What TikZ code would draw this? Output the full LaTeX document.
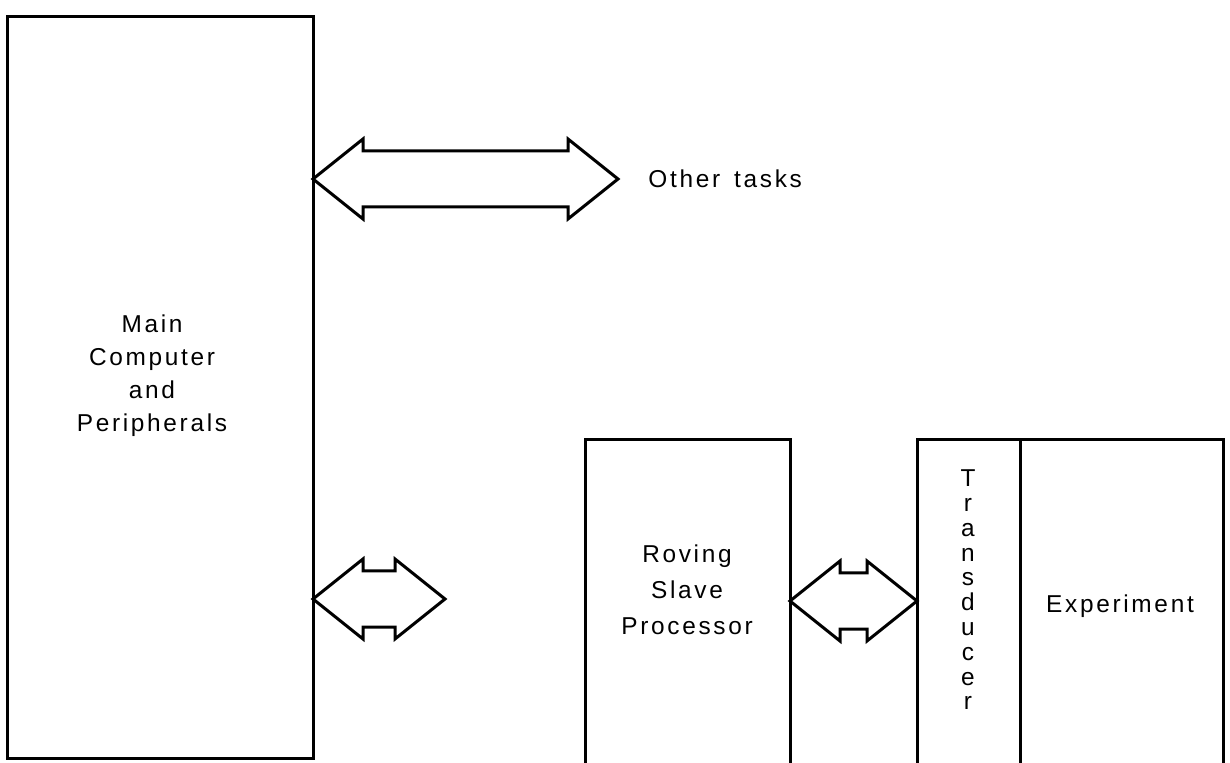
\documentclass[tikz,border=0pt]{standalone}
\usepackage{fontspec}
\setmainfont{Liberation Sans}[LetterSpace=11]
\usetikzlibrary{calc,positioning}
\newcommand{\busarrow}[2]{%
  \draw[bus] (#1) -- ++(50,-40) -- ++(0,12) -- ($(#2)+(-50,-28)$)
    -- ++(0,-12) -- (#2) -- ++(-50,40) -- ++(0,-12)
    -- ($(#1)+(50,28)$) -- ++(0,12) -- cycle;}

\begin{document}
\begin{tikzpicture}
[x=0.5pt,y=-0.5pt,%
  unit/.style={rectangle,draw,line width=1.5pt,inner sep=0pt,outer sep=0pt},%
  bus/.style={line width=1.5pt,line join=miter},%
  txt/.style={font=\fontsize{12.2}{16.5}\selectfont,align=center,inner sep=0pt}]
\useasboundingbox (0,0) rectangle (1230,763);
\clip (0,0) rectangle (1230,763);
% boxes
\node[unit,anchor=north west,minimum width=153pt,minimum height=370.5pt] (main) at (7,17) {};
\node[unit,anchor=north west,minimum width=102.5pt,minimum height=200pt] (rov) at (585,440) {};
\node[unit,anchor=north west,minimum width=51.5pt,minimum height=200pt] (trans) at (917,440) {};
\node[unit,minimum width=101.5pt,minimum height=200pt,right=0pt of trans] (expt) {};
% labels
\node[txt] (maintxt) at (152,376) {Main\\Computer\\and\\Peripherals};
\node[txt,font=\fontsize{12.2}{18}\selectfont] (rovtxt) at (687,590) {Roving\\Slave\\Processor};
\node[txt,anchor=base west] (othtxt) at (648,188) {Other\hspace{7pt}tasks};
\node[txt,anchor=base] (exptxt) at (1120,612) {Experiment};
\node[txt,font=\fontsize{12.2}{12.4}\selectfont] (trtxt) at (968,590) {T\\r\\a\\n\\s\\d\\u\\c\\e\\r};
% bus arrows
\coordinate (othr) at (618,179);
\coordinate (m1) at (main.east |- othr);
\coordinate (free) at (445,599);
\coordinate (m2) at (main.east |- free);
\coordinate (lvl) at (0,601);
\coordinate (r1) at (rov.east |- lvl);
\coordinate (t1) at (trans.west |- lvl);
\busarrow{m1}{othr}
\busarrow{m2}{free}
\busarrow{r1}{t1}
\end{tikzpicture}
\end{document}
